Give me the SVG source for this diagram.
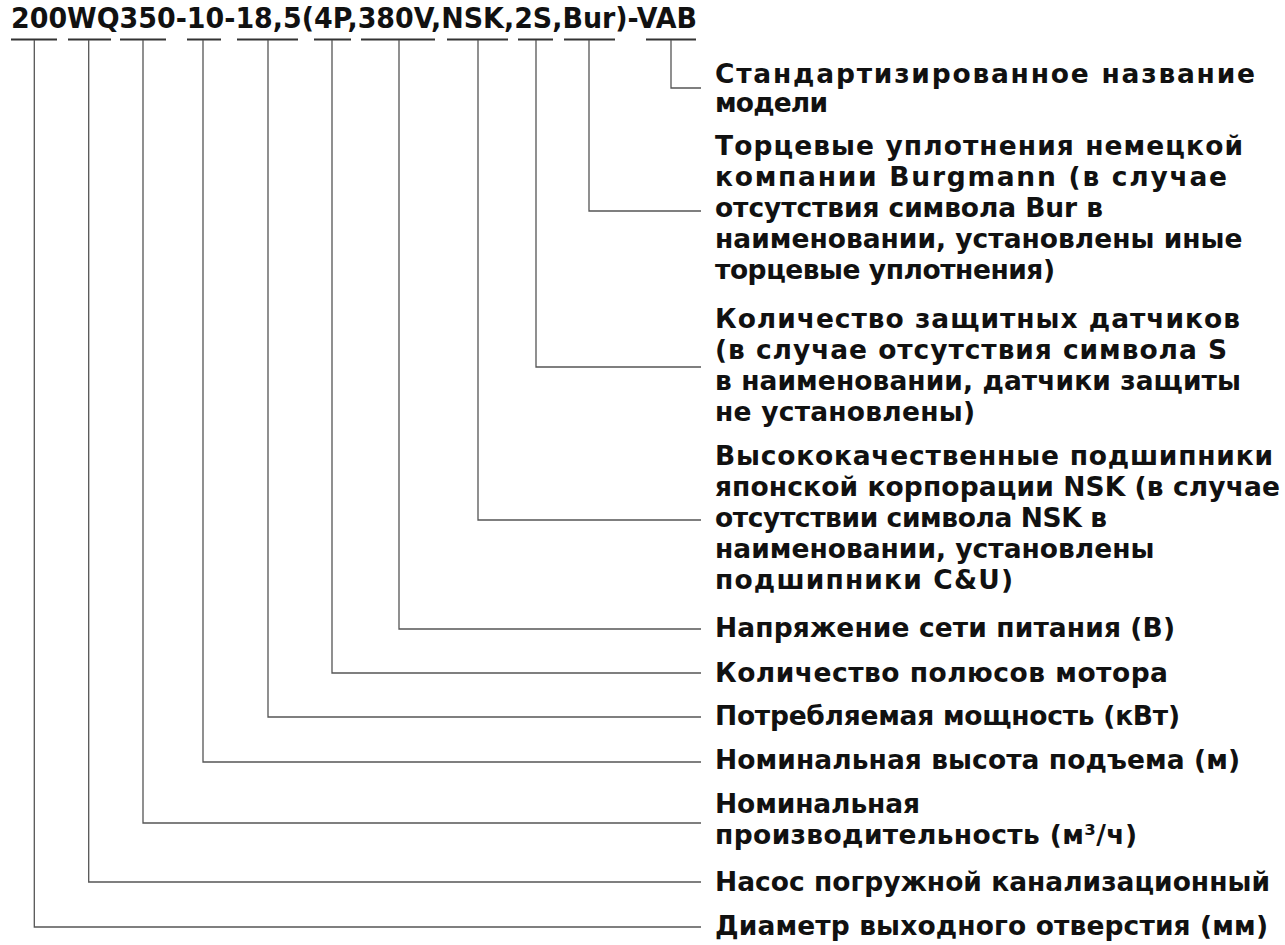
<svg xmlns="http://www.w3.org/2000/svg" width="1285" height="945" viewBox="0 0 1285 945">
<style>
.t{font-family:"DejaVu Sans","Verdana",sans-serif;font-weight:bold;fill:#111;}
.lbl{font-size:26.5px;}
.title{font-size:28px;}
.ul{stroke:#333;stroke-width:2;fill:none;}
.cn{stroke:#555;stroke-width:1.3;fill:none;}
</style>
<rect width="1285" height="945" fill="#fff"/>
<g id="title">
<text class="t title" x="11" y="28" textLength="686" lengthAdjust="spacingAndGlyphs">200WQ350-10-18,5(4P,380V,NSK,2S,Bur)-VAB</text>
<path class="ul" d="M11 39.5H57M68 39.5H111M120 39.5H166M187 39.5H221M237 39.5H298M314 39.5H351M361 39.5H435M447 39.5H508M518 39.5H553M564 39.5H615M646 39.5H696"/>
</g>
<g id="connectors">
<polyline class="cn" points="671,40 671,88 701,88"/>
<polyline class="cn" points="589,40 589,211 701,211"/>
<polyline class="cn" points="536,40 536,367 701,367"/>
<polyline class="cn" points="478,40 478,520 701,520"/>
<polyline class="cn" points="399,40 399,629 701,629"/>
<polyline class="cn" points="332,40 332,673 701,673"/>
<polyline class="cn" points="268,40 268,717 701,717"/>
<polyline class="cn" points="203,40 203,762 701,762"/>
<polyline class="cn" points="143,40 143,823 701,823"/>
<polyline class="cn" points="88.7,40 88.7,882 701,882"/>
<polyline class="cn" points="34.3,40 34.3,927 701,927"/>
</g>
<g id="label-vab"><text class="t lbl" x="715" y="83" textLength="540">Стандартизированное название</text><text class="t lbl" x="715" y="112" textLength="113">модели</text></g>
<g id="label-bur"><text class="t lbl" x="715" y="155" textLength="528">Торцевые уплотнения немецкой</text><text class="t lbl" x="715" y="186" textLength="512">компании Burgmann (в случае</text><text class="t lbl" x="715" y="217" textLength="388">отсутствия символа Bur в</text><text class="t lbl" x="715" y="248">наименовании, установлены иные</text><text class="t lbl" x="715" y="279" textLength="340">торцевые уплотнения)</text></g>
<g id="label-2s"><text class="t lbl" x="715" y="328" textLength="525">Количество защитных датчиков</text><text class="t lbl" x="715" y="359" textLength="512">(в случае отсутствия символа S</text><text class="t lbl" x="715" y="390" textLength="526">в наименовании, датчики защиты</text><text class="t lbl" x="715" y="421" textLength="260">не установлены)</text></g>
<g id="label-nsk"><text class="t lbl" x="715" y="465" textLength="558">Высококачественные подшипники</text><text class="t lbl" x="715" y="496" textLength="565">японской корпорации NSK (в случае</text><text class="t lbl" x="715" y="527" textLength="392">отсутствии символа NSK в</text><text class="t lbl" x="715" y="558">наименовании, установлены</text><text class="t lbl" x="715" y="589" textLength="298">подшипники C&amp;U)</text></g>
<g id="label-380v"><text class="t lbl" x="715" y="637" textLength="460">Напряжение сети питания (В)</text></g>
<g id="label-4p"><text class="t lbl" x="715" y="682" textLength="453">Количество полюсов мотора</text></g>
<g id="label-power"><text class="t lbl" x="715" y="725" textLength="465">Потребляемая мощность (кВт)</text></g>
<g id="label-head"><text class="t lbl" x="715" y="769" textLength="525">Номинальная высота подъема (м)</text></g>
<g id="label-flow"><text class="t lbl" x="715" y="813" textLength="205">Номинальная</text><text class="t lbl" x="715" y="844" textLength="422">производительность (м³/ч)</text></g>
<g id="label-wq"><text class="t lbl" x="715" y="891" textLength="555">Насос погружной канализационный</text></g>
<g id="label-dia"><text class="t lbl" x="715" y="935" textLength="553">Диаметр выходного отверстия (мм)</text></g>
</svg>
